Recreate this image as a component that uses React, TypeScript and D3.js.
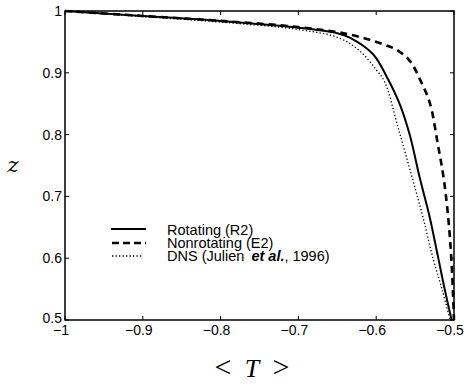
import React from "react";
import * as d3 from "d3";

// profiles: <T> against z
const rotatingT = [-1, -0.9, -0.8, -0.7, -0.65, -0.634, -0.604, -0.585, -0.57, -0.557, -0.544, -0.531, -0.521, -0.512, -0.503];
const rotatingZ = [1, 0.992, 0.984, 0.973, 0.964, 0.957, 0.93, 0.89, 0.85, 0.8, 0.73, 0.665, 0.605, 0.55, 0.5];

const nonrotT = [-1, -0.9, -0.8, -0.7, -0.634, -0.591, -0.572, -0.556, -0.544, -0.531, -0.521, -0.513, -0.507, -0.503, -0.5];
const nonrotZ = [1, 0.992, 0.984, 0.974, 0.962, 0.946, 0.936, 0.918, 0.89, 0.851, 0.786, 0.727, 0.66, 0.59, 0.5];

const dnsT = [-1, -0.9, -0.8, -0.7, -0.647, -0.62, -0.6, -0.589, -0.572, -0.553, -0.54, -0.527, -0.515, -0.505];
const dnsZ = [1, 0.991, 0.982, 0.97, 0.956, 0.934, 0.905, 0.885, 0.812, 0.727, 0.667, 0.6, 0.548, 0.5];

const xTicks = [-1, -0.9, -0.8, -0.7, -0.6, -0.5];
const yTicks = [0.5, 0.6, 0.7, 0.8, 0.9, 1];

const legendLabels = ["Rotating (R2)", "Nonrotating (E2)", "DNS (Julien "];

export default function App() {
  const margin = { top: 11, right: 10, bottom: 64, left: 65 };
  const width = 464;
  const height = 384;

  const x = d3.scaleLinear().domain([-1, -0.5]).range([margin.left, width - margin.right]);
  const y = d3.scaleLinear().domain([0.5, 1]).range([height - margin.bottom, margin.top]);

  const line = d3
    .line<[number, number]>()
    .x((d) => x(d[0]))
    .y((d) => y(d[1]))
    .curve(d3.curveCatmullRom.alpha(0.5));

  const zip = (a: number[], b: number[]) => a.map((v, i) => [v, b[i]] as [number, number]);

  const x0 = x.range()[0];
  const x1 = x.range()[1];
  const y0 = y.range()[0];
  const y1 = y.range()[1];
  const fmt = (v: number) => (v < 0 ? "\u2212" + Math.abs(v) : String(v));
  const font = "'Liberation Sans', Arial, sans-serif";
  const serif = "'Liberation Serif', 'DejaVu Serif', serif";

  return (
    <svg width={width} height={height} style={{ position: "absolute", left: 0, top: 0, background: "#fff" }}>
      {/* ticks on all four sides, pointing in */}
      {xTicks.map((t) => (
        <g key={"x" + t}>
          <line x1={x(t)} x2={x(t)} y1={y0} y2={y0 - 4} stroke="#000" strokeWidth={1} />
          <line x1={x(t)} x2={x(t)} y1={y1} y2={y1 + 4} stroke="#000" strokeWidth={1} />
          <text x={x(t) - 4} y={y0 + 15} textAnchor="middle" fontFamily={font} fontSize={14}>
            {fmt(t)}
          </text>
        </g>
      ))}
      {yTicks.map((t) => (
        <g key={"y" + t}>
          <line x1={x0} x2={x0 + 4} y1={y(t)} y2={y(t)} stroke="#000" strokeWidth={1} />
          <line x1={x1} x2={x1 - 4} y1={y(t)} y2={y(t)} stroke="#000" strokeWidth={1} />
          <text x={x0 - 3} y={y(t) + (t === 0.5 ? 3 : 5)} textAnchor="end" fontFamily={font} fontSize={14}>
            {String(t)}
          </text>
        </g>
      ))}

      <path d={line(zip(dnsT, dnsZ)) || ""} fill="none" stroke="#000" strokeWidth={1.3} strokeDasharray="1.3,2.2" />
      <path d={line(zip(rotatingT, rotatingZ)) || ""} fill="none" stroke="#000" strokeWidth={2} />
      <path d={line(zip(nonrotT, nonrotZ)) || ""} fill="none" stroke="#000" strokeWidth={2.6} strokeDasharray="7,5" />

      <rect x={x0} y={y1} width={x1 - x0} height={y0 - y1} fill="none" stroke="#000" strokeWidth={1.5} />

      {/* legend */}
      <g fontFamily={font} fontSize={14.5}>
        <line x1={111} x2={146} y1={229} y2={229} stroke="#000" strokeWidth={2} />
        <line x1={112} x2={146} y1={243} y2={243} stroke="#000" strokeWidth={2.6} strokeDasharray="7,4" />
        <line x1={112} x2={143} y1={256} y2={256} stroke="#000" strokeWidth={1.3} strokeDasharray="1.3,2.2" />
        <text x={167} y={235}>{legendLabels[0]}</text>
        <text x={167} y={248}>{legendLabels[1]}</text>
        <text x={167} y={261}>
          {legendLabels[2]}
          <tspan fontStyle="italic" fontWeight="bold" dx={3}>et al.</tspan>
          <tspan>, 1996)</tspan>
        </text>
      </g>

      {/* axis titles */}
      <text x={13} y={172} textAnchor="middle" fontFamily="'DejaVu Serif', 'Liberation Serif', serif" fontStyle="italic" fontSize={21}>
        z
      </text>
      <g fontFamily={serif} fontSize={26} textAnchor="middle">
        <text x={223} y={377} fontSize={30}>{"<"}</text>
        <text x={252} y={377} fontStyle="italic">T</text>
        <text x={281} y={377} fontSize={30}>{">"}</text>
      </g>
    </svg>
  );
}
